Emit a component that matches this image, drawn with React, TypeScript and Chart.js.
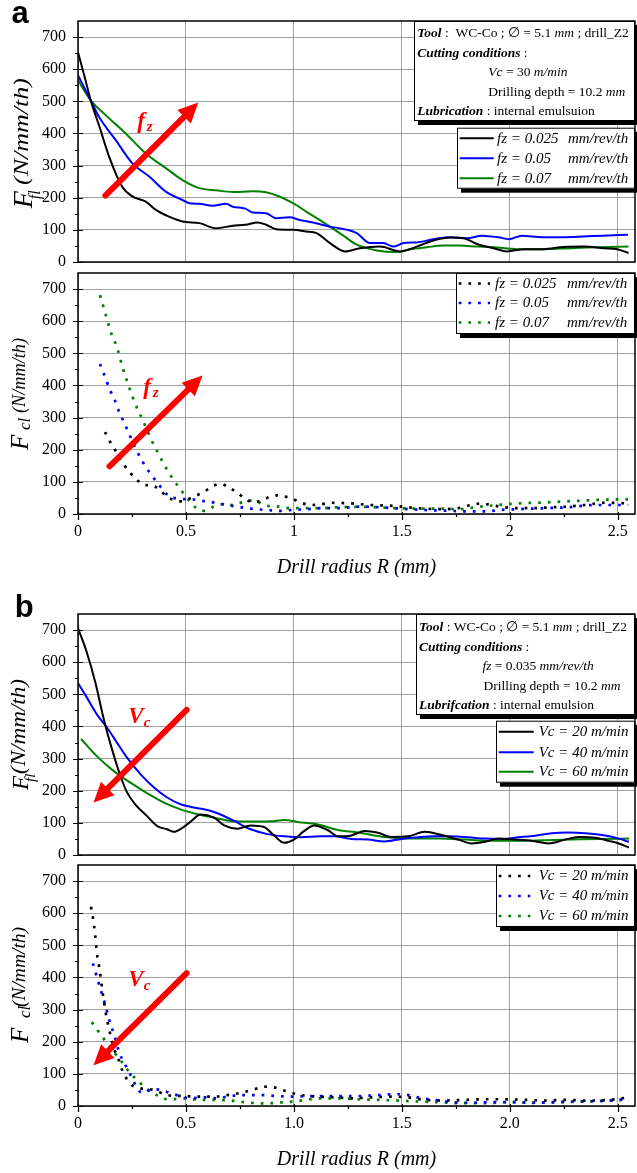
import React, { useEffect, useRef } from 'react';
import { Chart, registerables } from 'chart.js';
Chart.register(...registerables);

const SERIF = '"Liberation Serif", "Times New Roman", Times, serif';
const SANS = '"Liberation Sans", Arial, Helvetica, sans-serif';
const GRID = '#a0a0a0';

// ---------- axes ----------
const X_MAX = 2.58;
const Y_MAX = 750;
const yTickValues = [0, 100, 200, 300, 400, 500, 600, 700];
const yMinorValues = [50, 150, 250, 350, 450, 550, 650];
const xTickValues = [0, 0.5, 1, 1.5, 2, 2.5];
const xMinorValues = [0.25, 0.75, 1.25, 1.75, 2.25];
const xLabelsA = ['0', '0.5', '1', '1.5', '2', '2.5'];
const xLabelsB = ['0', '0.5', '1.0', '1.5', '2.0', '2.5'];
const xTitle = 'Drill radius R (mm)';

// ---------- legends ----------
const legendA = ['fz = 0.025 mm/rev/th', 'fz = 0.05 mm/rev/th', 'fz = 0.07 mm/rev/th'];
const legendB = ['Vc = 20 m/min', 'Vc = 40 m/min', 'Vc = 60 m/min'];
const seriesColors = ['#000000', '#0000ff', '#008000'];

// ---------- panel a, top: F_fl ----------
const aFflR_fz025 = [0, 0.03, 0.059, 0.1, 0.144, 0.204, 0.252, 0.314, 0.361, 0.422, 0.484, 0.562, 0.64, 0.717, 0.775, 0.833, 0.871, 0.918, 0.996, 1.057, 1.105, 1.167, 1.236, 1.306, 1.399, 1.492, 1.569, 1.647, 1.724, 1.786, 1.848, 1.925, 1.987, 2.065, 2.157, 2.25, 2.343, 2.436, 2.498, 2.55];
const aFflF_fz025 = [653, 578, 503, 420, 328, 235, 204, 188, 162, 141, 126, 121, 105, 113, 116, 123, 116, 102, 100, 95, 90, 59, 33, 43, 48, 33, 48, 67, 76, 74, 56, 43, 33, 40, 40, 47, 48, 43, 40, 28];
const aFflR_fz05 = [0, 0.059, 0.097, 0.174, 0.252, 0.33, 0.407, 0.484, 0.516, 0.562, 0.624, 0.686, 0.717, 0.775, 0.809, 0.871, 0.918, 0.98, 1.026, 1.088, 1.167, 1.228, 1.291, 1.352, 1.414, 1.461, 1.508, 1.569, 1.647, 1.724, 1.802, 1.871, 1.948, 1.995, 2.057, 2.15, 2.243, 2.336, 2.429, 2.547];
const aFflF_fz05 = [581, 503, 452, 380, 307, 266, 219, 193, 183, 181, 175, 181, 172, 166, 154, 152, 136, 139, 131, 123, 110, 103, 90, 59, 59, 48, 59, 61, 71, 77, 74, 82, 77, 71, 82, 77, 77, 79, 82, 85];
const aFflR_fz07 = [0, 0.059, 0.128, 0.221, 0.314, 0.407, 0.484, 0.562, 0.64, 0.717, 0.81, 0.871, 0.933, 0.996, 1.057, 1.119, 1.167, 1.229, 1.291, 1.384, 1.477, 1.539, 1.616, 1.693, 1.771, 1.848, 1.925, 2.034, 2.157, 2.281, 2.405, 2.55];
const aFflF_fz07 = [566, 503, 457, 400, 338, 292, 255, 230, 223, 218, 220, 217, 204, 183, 157, 131, 110, 82, 54, 36, 31, 40, 46, 51, 51, 48, 46, 40, 40, 43, 46, 48];

// ---------- panel a, bottom: F_cl ----------
const aFclR_fz025 = [0.125, 0.149, 0.172, 0.214, 0.245, 0.276, 0.307, 0.343, 0.378, 0.412, 0.45, 0.486, 0.52, 0.563, 0.597, 0.628, 0.662, 0.703, 0.737, 0.776, 0.814, 0.86, 0.891, 0.922, 0.961, 1.0, 1.038, 1.085, 1.124, 1.171, 1.264, 1.357, 1.465, 1.573, 1.682, 1.76, 1.82, 1.867, 1.914, 1.975, 2.037, 2.114, 2.192, 2.27, 2.347, 2.44, 2.549];
const aFclF_fz025 = [255, 224, 199, 152, 126, 104, 90, 89, 75, 54, 42, 39, 49, 62, 75, 88, 94, 80, 68, 45, 37, 45, 54, 58, 54, 45, 34, 28, 30, 35, 33, 28, 25, 18, 15, 18, 28, 33, 28, 21, 18, 18, 21, 23, 28, 35, 33];
const aFclR_fz05 = [0.102, 0.118, 0.133, 0.149, 0.169, 0.183, 0.2, 0.219, 0.237, 0.254, 0.275, 0.295, 0.315, 0.341, 0.367, 0.395, 0.426, 0.458, 0.497, 0.528, 0.559, 0.597, 0.644, 0.69, 0.737, 0.783, 0.86, 0.938, 1.0, 1.062, 1.124, 1.204, 1.309, 1.464, 1.588, 1.712, 1.805, 1.883, 1.96, 2.037, 2.16, 2.27, 2.394, 2.549];
const aFclF_fz05 = [467, 439, 412, 384, 357, 330, 304, 276, 249, 223, 193, 168, 145, 121, 97, 75, 52, 49, 46, 46, 42, 39, 34, 28, 23, 18, 13, 10, 13, 15, 18, 18, 23, 18, 13, 10, 8, 8, 13, 15, 18, 21, 28, 28];
const aFclR_fz07 = [0.102, 0.127, 0.151, 0.183, 0.207, 0.234, 0.265, 0.3, 0.319, 0.353, 0.375, 0.396, 0.419, 0.442, 0.469, 0.494, 0.52, 0.548, 0.582, 0.628, 0.667, 0.713, 0.76, 0.814, 0.86, 0.93, 0.984, 1.062, 1.124, 1.2, 1.295, 1.388, 1.481, 1.574, 1.667, 1.76, 1.852, 1.945, 2.038, 2.131, 2.224, 2.317, 2.41, 2.549];
const aFclF_fz07 = [681, 624, 568, 514, 455, 400, 343, 292, 263, 212, 185, 157, 131, 106, 82, 59, 38, 18, 10, 23, 30, 28, 36, 43, 28, 23, 18, 18, 18, 21, 22, 21, 18, 17, 17, 15, 22, 28, 33, 35, 38, 41, 44, 46];

// ---------- panel b, top: F_fl ----------
const bFflR_vc20 = [0, 0.042, 0.081, 0.12, 0.158, 0.197, 0.228, 0.266, 0.32, 0.367, 0.413, 0.444, 0.483, 0.522, 0.568, 0.63, 0.677, 0.739, 0.8, 0.862, 0.908, 0.955, 1.0, 1.048, 1.094, 1.158, 1.204, 1.266, 1.328, 1.39, 1.452, 1.529, 1.607, 1.684, 1.761, 1.823, 1.885, 1.947, 2.025, 2.102, 2.18, 2.257, 2.319, 2.396, 2.458, 2.505, 2.552];
const bFflF_vc20 = [706, 628, 535, 421, 328, 245, 194, 157, 121, 90, 80, 72, 84, 104, 126, 116, 92, 82, 92, 87, 61, 38, 48, 75, 92, 77, 58, 61, 75, 69, 56, 58, 72, 62, 48, 36, 41, 51, 48, 44, 36, 48, 56, 54, 44, 36, 23];
const bFflR_vc40 = [0, 0.042, 0.088, 0.135, 0.181, 0.228, 0.29, 0.352, 0.413, 0.475, 0.537, 0.599, 0.646, 0.723, 0.8, 0.878, 0.955, 1.033, 1.124, 1.188, 1.266, 1.343, 1.42, 1.498, 1.575, 1.653, 1.73, 1.808, 1.885, 1.963, 2.04, 2.117, 2.195, 2.272, 2.35, 2.427, 2.505, 2.552];
const bFflF_vc40 = [535, 489, 437, 396, 349, 302, 251, 210, 179, 158, 148, 140, 130, 106, 80, 65, 58, 55, 58, 58, 50, 48, 42, 50, 55, 58, 58, 55, 51, 50, 55, 60, 68, 70, 68, 62, 51, 41];
const bFflR_vc60 = [0.014, 0.088, 0.166, 0.243, 0.321, 0.398, 0.475, 0.553, 0.63, 0.708, 0.8, 0.893, 0.955, 1.017, 1.111, 1.204, 1.297, 1.42, 1.544, 1.669, 1.792, 1.916, 2.04, 2.164, 2.288, 2.412, 2.552];
const bFflF_vc60 = [361, 307, 261, 225, 192, 163, 142, 127, 116, 106, 104, 105, 109, 103, 95, 78, 70, 56, 51, 51, 48, 44, 44, 46, 48, 50, 51];

// ---------- panel b, bottom: F_cl ----------
const bFclR_vc20 = [0.06, 0.069, 0.079, 0.088, 0.097, 0.106, 0.116, 0.128, 0.142, 0.166, 0.184, 0.204, 0.224, 0.25, 0.289, 0.351, 0.413, 0.49, 0.568, 0.63, 0.692, 0.754, 0.816, 0.862, 0.908, 0.97, 1.033, 1.111, 1.188, 1.266, 1.359, 1.452, 1.529, 1.607, 1.7, 1.792, 1.885, 1.978, 2.071, 2.164, 2.257, 2.35, 2.458, 2.552];
const bFclF_vc20 = [620, 587, 536, 474, 437, 395, 345, 292, 246, 179, 153, 112, 86, 65, 55, 50, 34, 31, 29, 29, 34, 41, 52, 60, 58, 45, 34, 29, 27, 24, 27, 29, 27, 19, 17, 19, 21, 21, 19, 17, 19, 17, 19, 27];
const bFclR_vc40 = [0.069, 0.081, 0.093, 0.106, 0.119, 0.131, 0.142, 0.155, 0.169, 0.192, 0.212, 0.235, 0.254, 0.274, 0.302, 0.343, 0.385, 0.427, 0.474, 0.52, 0.582, 0.643, 0.706, 0.768, 0.845, 0.923, 1.0, 1.078, 1.204, 1.297, 1.39, 1.467, 1.529, 1.591, 1.653, 1.73, 1.823, 1.916, 2.009, 2.102, 2.195, 2.288, 2.396, 2.505, 2.552];
const bFclF_vc40 = [444, 416, 388, 360, 331, 303, 274, 246, 219, 164, 137, 107, 83, 55, 40, 52, 50, 40, 31, 24, 27, 24, 31, 34, 34, 31, 29, 31, 31, 31, 34, 37, 34, 24, 19, 12, 10, 12, 12, 10, 12, 14, 15, 19, 24];
const bFclR_vc60 = [0.064, 0.09, 0.115, 0.142, 0.17, 0.2, 0.23, 0.258, 0.282, 0.309, 0.351, 0.39, 0.436, 0.483, 0.529, 0.583, 0.643, 0.706, 0.784, 0.862, 0.939, 1.0, 1.078, 1.124, 1.204, 1.297, 1.39, 1.483, 1.575, 1.668, 1.761, 1.885, 2.009, 2.133, 2.257, 2.381, 2.474, 2.552];
const bFclF_vc60 = [261, 236, 213, 189, 165, 140, 112, 91, 76, 58, 40, 24, 21, 24, 21, 19, 19, 17, 11, 8, 11, 14, 21, 24, 24, 21, 19, 17, 14, 12, 9, 9, 12, 10, 12, 15, 17, 21];

// ---------- annotation arrows (data coordinates: R, F) ----------
const arrowATopFrom = [0.117, 200];
const arrowATopTo = [0.557, 496];
const arrowATopLabel = [0.274, 417];
const arrowABotFrom = [0.136, 142];
const arrowABotTo = [0.577, 431];
const arrowABotLabel = [0.302, 375];
const arrowBTopFrom = [0.513, 458];
const arrowBTopTo = [0.072, 163];
const arrowBTopLabel = [0.233, 411];
const arrowBBotFrom = [0.513, 420];
const arrowBBotTo = [0.072, 127];
const arrowBBotLabel = [0.233, 375];

// ---------- info boxes ----------
type Seg = [string, string];
const infoA: Seg[][] = [
  [['bi', 'Tool'], ['n', ' :  WC-Co ; \u2205 = 5.1 '], ['i', 'mm'], ['n', ' ; drill_Z2']],
  [['bi', 'Cutting conditions'], ['n', ' :']],
  [['i', 'Vc'], ['n', ' = 30 '], ['i', 'm/min']],
  [['n', 'Drilling depth = 10.2 '], ['i', 'mm']],
  [['bi', 'Lubrication'], ['n', ' : internal emulsuion']],
];
const infoB: Seg[][] = [
  [['bi', 'Tool'], ['n', ' : WC-Co ; \u2205 = 5.1 '], ['i', 'mm'], ['n', ' ; drill_Z2']],
  [['bi', 'Cutting conditions'], ['n', ' :']],
  [['i', 'fz'], ['n', ' = 0.035 '], ['i', 'mm/rev/th']],
  [['n', 'Drilling depth = 10.2 '], ['i', 'mm']],
  [['bi', 'Lubrifcation'], ['n', ' : internal emulsion']],
];

function segFont(st: string, size: number) {
  const it = st.includes('i') ? 'italic ' : '';
  const bd = st.includes('b') ? 'bold ' : '';
  return `${it}${bd}${size}px ${SERIF}`;
}

function drawSegs(ctx: CanvasRenderingContext2D, segs: Seg[], x: number, y: number, size: number) {
  let cx = x;
  for (const [st, t] of segs) {
    ctx.font = segFont(st, size);
    ctx.fillText(t, cx, y);
    cx += ctx.measureText(t).width;
  }
}

function makeDecor(spec: any) {
  return {
    id: 'decor_' + spec.key,
    afterDatasetsDraw(chart: any) {
      const { ctx, chartArea: ca, scales } = chart;
      const xs = scales.x;
      const ys = scales.y;
      ctx.save();
      ctx.strokeStyle = '#000';
      ctx.lineWidth = 1.5;
      ctx.strokeRect(ca.left, ca.top, ca.right - ca.left, ca.bottom - ca.top);
      ctx.lineWidth = 1.2;
      ctx.beginPath();
      for (const v of yTickValues) {
        const py = Math.round(ys.getPixelForValue(v)) + 0.5;
        ctx.moveTo(ca.left - 5, py);
        ctx.lineTo(ca.left + 5, py);
      }
      for (const v of yMinorValues) {
        const py = Math.round(ys.getPixelForValue(v)) + 0.5;
        ctx.moveTo(ca.left - 3, py);
        ctx.lineTo(ca.left, py);
      }
      if (spec.showX) {
        for (const v of xTickValues) {
          const px = Math.round(xs.getPixelForValue(v)) + 0.5;
          ctx.moveTo(px, ca.bottom - 2);
          ctx.lineTo(px, ca.bottom + 6);
        }
        for (const v of xMinorValues) {
          const px = Math.round(xs.getPixelForValue(v)) + 0.5;
          ctx.moveTo(px, ca.bottom);
          ctx.lineTo(px, ca.bottom + 3);
        }
      }
      ctx.stroke();
      ctx.restore();
    },
    afterDraw(chart: any) {
      const { ctx, chartArea: ca, scales } = chart;
      const xs = scales.x;
      const ys = scales.y;

      // y-axis title with subscript
      const t = spec.yTitle;
      ctx.save();
      ctx.fillStyle = '#000';
      ctx.textAlign = 'left';
      ctx.textBaseline = 'alphabetic';
      const cy = (ca.top + ca.bottom) / 2;
      ctx.translate(0, cy);
      ctx.rotate(-Math.PI / 2);
      const u0 = t.u0;
      ctx.font = `italic ${t.fSize}px ${SERIF}`;
      ctx.fillText('F', u0, t.fBase);
      ctx.font = `italic ${t.subSize}px ${SERIF}`;
      ctx.fillText(t.sub, u0 + t.subU, t.subBase);
      ctx.font = `italic ${t.restSize}px ${SERIF}`;
      const wr = ctx.measureText(t.rest).width;
      ctx.translate(u0 + t.restU, t.restBase);
      ctx.scale(t.restLen / wr, 1);
      ctx.fillText(t.rest, 0, 0);
      ctx.restore();

      // info box
      if (spec.info) {
        const I = spec.info;
        const bx = ca.right - I.w;
        const by = ca.top + I.dy;
        ctx.save();
        ctx.fillStyle = '#000';
        ctx.fillRect(bx + 4, by + 4, I.w, I.h);
        ctx.fillStyle = '#fff';
        ctx.fillRect(bx, by, I.w, I.h);
        ctx.strokeStyle = '#000';
        ctx.lineWidth = 1;
        ctx.strokeRect(bx + 0.5, by + 0.5, I.w - 1, I.h - 1);
        ctx.fillStyle = '#000';
        ctx.textBaseline = 'alphabetic';
        ctx.textAlign = 'left';
        I.lines.forEach((segs: Seg[], i: number) => {
          drawSegs(ctx, segs, bx + I.indent[i], by + I.base[i], I.size);
        });
        ctx.restore();
      }

      // legend box
      const L = spec.legend;
      {
        const bx = ca.right - L.w;
        const by = ca.top + L.dy;
        ctx.save();
        ctx.fillStyle = '#000';
        ctx.fillRect(bx + 4, by + 4, L.w, L.h);
        ctx.fillStyle = '#fff';
        ctx.fillRect(bx, by, L.w, L.h);
        ctx.strokeStyle = '#000';
        ctx.lineWidth = 1;
        ctx.strokeRect(bx + 0.5, by + 0.5, L.w - 1, L.h - 1);
        chart.data.datasets.forEach((ds: any, i: number) => {
          const ry = by + L.rows[i];
          ctx.strokeStyle = ds.borderColor;
          ctx.lineWidth = ds.borderWidth;
          ctx.setLineDash(ds.borderDash || []);
          ctx.beginPath();
          ctx.moveTo(bx + L.s0, ry);
          ctx.lineTo(bx + L.s1, ry);
          ctx.stroke();
          ctx.setLineDash([]);
          ctx.fillStyle = '#000';
          ctx.font = `italic 15px ${SERIF}`;
          ctx.textBaseline = 'middle';
          ctx.textAlign = 'left';
          const label: string = ds.label;
          if (L.unitX) {
            const k = label.lastIndexOf(' ');
            ctx.fillText(label.slice(0, k), bx + L.textX, ry + 0.5);
            ctx.fillText(label.slice(k + 1), bx + L.unitX, ry + 0.5);
          } else {
            ctx.fillText(label, bx + L.textX, ry + 0.5);
          }
        });
        ctx.restore();
      }

      // red arrow + label
      const A = spec.arrow;
      {
        const x0 = xs.getPixelForValue(A.from[0]);
        const y0 = ys.getPixelForValue(A.from[1]);
        const x1 = xs.getPixelForValue(A.to[0]);
        const y1 = ys.getPixelForValue(A.to[1]);
        const ang = Math.atan2(y1 - y0, x1 - x0);
        const head = 20;
        const hw = 9.5;
        const c = Math.cos(ang);
        const s = Math.sin(ang);
        const bx = x1 - head * c;
        const by = y1 - head * s;
        ctx.save();
        ctx.strokeStyle = '#ff0000';
        ctx.fillStyle = '#ff0000';
        ctx.lineWidth = 6;
        ctx.lineCap = 'round';
        ctx.beginPath();
        ctx.moveTo(x0 + 3 * c, y0 + 3 * s);
        ctx.lineTo(bx + 2 * c, by + 2 * s);
        ctx.stroke();
        ctx.beginPath();
        ctx.moveTo(x1, y1);
        ctx.lineTo(bx - hw * s, by + hw * c);
        ctx.lineTo(bx + hw * s, by - hw * c);
        ctx.closePath();
        ctx.fill();
        const lx = xs.getPixelForValue(A.label[0]);
        const ly = ys.getPixelForValue(A.label[1]);
        ctx.textBaseline = 'alphabetic';
        ctx.textAlign = 'left';
        ctx.font = `italic bold ${A.mainSize}px ${SERIF}`;
        ctx.fillText(A.main, lx, ly);
        const w = ctx.measureText(A.main).width;
        ctx.font = `italic bold ${A.subSize}px ${SERIF}`;
        ctx.fillText(A.sub, lx + w + A.subDx, ly + A.subDy);
        ctx.restore();
      }

      // panel letter
      if (spec.letter) {
        ctx.save();
        ctx.fillStyle = '#000';
        ctx.font = `bold 31px ${SANS}`;
        ctx.textBaseline = 'alphabetic';
        ctx.textAlign = 'left';
        ctx.fillText(spec.letter.text, spec.letter.x, spec.letter.y);
        ctx.restore();
      }
    },
  };
}

function buildConfig(spec: any): any {
  return {
    type: 'line',
    data: {
      datasets: spec.series.map((s: any, i: number) => ({
        label: spec.labels[i],
        data: s.r.map((r: number, k: number) => ({ x: r, y: s.f[k] })),
        borderColor: seriesColors[i],
        backgroundColor: seriesColors[i],
        borderWidth: spec.dotted ? 2.7 : 2,
        borderDash: spec.dotted ? [2.7, 7] : [],
        borderCapStyle: 'butt',
        pointRadius: 0,
        cubicInterpolationMode: 'monotone',
        fill: false,
      })),
    },
    options: {
      animation: false,
      responsive: true,
      maintainAspectRatio: false,
      events: [],
      layout: { padding: { left: 0, right: 2, top: spec.padTop, bottom: 0 } },
      plugins: { legend: { display: false }, tooltip: { enabled: false }, title: { display: false } },
      scales: {
        x: {
          type: 'linear',
          min: 0,
          max: X_MAX,
          afterBuildTicks: (sc: any) => {
            sc.ticks = xTickValues.map((v) => ({ value: v }));
          },
          afterFit: (sc: any) => {
            sc.height = spec.xAxisH;
            sc.paddingLeft = 0;
            sc.paddingRight = 0;
            sc.paddingTop = 0;
            sc.paddingBottom = 0;
          },
          grid: { color: GRID, lineWidth: 1, drawTicks: false },
          border: { display: false },
          ticks: {
            display: spec.showX,
            padding: 8,
            maxRotation: 0,
            autoSkip: false,
            color: '#000',
            font: { family: SERIF, size: 16 },
            callback: (_v: any, i: number) => spec.xLabels[i],
          },
          title: {
            display: spec.showX,
            text: xTitle,
            color: '#000',
            font: { family: SERIF, size: 20, style: 'italic' },
            padding: { top: 0, bottom: spec.titlePadBottom || 0 },
          },
        },
        y: {
          type: 'linear',
          min: 0,
          max: Y_MAX,
          afterBuildTicks: (sc: any) => {
            sc.ticks = yTickValues.map((v) => ({ value: v }));
          },
          afterFit: (sc: any) => {
            sc.width = 78;
            sc.paddingLeft = 0;
            sc.paddingRight = 0;
            sc.paddingTop = 0;
            sc.paddingBottom = 0;
          },
          grid: { color: GRID, lineWidth: 1, drawTicks: false },
          border: { display: false },
          ticks: {
            padding: 12,
            color: '#000',
            font: { family: SERIF, size: 16 },
          },
        },
      },
    },
    plugins: [makeDecor(spec)],
  };
}

const panelSpecs: any[] = [
  {
    key: 'aTop', top: 0, height: 270, padTop: 21, xAxisH: 8, showX: false, dotted: false,
    labels: legendA, xLabels: xLabelsA,
    series: [
      { r: aFflR_fz025, f: aFflF_fz025 },
      { r: aFflR_fz05, f: aFflF_fz05 },
      { r: aFflR_fz07, f: aFflF_fz07 },
    ],
    yTitle: { u0: -66.8, fSize: 28, fBase: 31.7, sub: 'fl', subSize: 16, subU: 9, subBase: 39.5, rest: '(N/mm/th)', restSize: 21, restU: 23.3, restLen: 107, restBase: 27.8 },
    info: { w: 221, h: 100, dy: 0, size: 13.5, lines: infoA, indent: [3.3, 3.3, 74.3, 74.3, 3.3], base: [16, 36, 55.3, 75, 94.3] },
    legend: { w: 178, h: 61, dy: 106.7, rows: [10.5, 30.5, 50.5], s0: 2.7, s1: 36.7, textX: 40, unitX: 111 },
    arrow: { from: arrowATopFrom, to: arrowATopTo, label: arrowATopLabel, main: 'f', sub: 'z', mainSize: 23, subSize: 15, subDx: 2, subDy: 3 },
    letter: { text: 'a', x: 11.5, y: 23.3 },
  },
  {
    key: 'aBot', top: 270, height: 315, padTop: 3, xAxisH: 71, showX: true, dotted: true, titlePadBottom: 5,
    labels: legendA, xLabels: xLabelsA,
    series: [
      { r: aFclR_fz025, f: aFclF_fz025 },
      { r: aFclR_fz05, f: aFclF_fz05 },
      { r: aFclR_fz07, f: aFclF_fz07 },
    ],
    yTitle: { u0: -56.5, fSize: 25, fBase: 28.3, sub: 'cl', subSize: 17, subU: 20, subBase: 30, rest: '(N/mm/th)', restSize: 18, restU: 37, restLen: 75, restBase: 25.2 },
    legend: { w: 179, h: 61, dy: 0, rows: [10.5, 30, 49.5], s0: 2.7, s1: 34, textX: 39, unitX: 111 },
    arrow: { from: arrowABotFrom, to: arrowABotTo, label: arrowABotLabel, main: 'f', sub: 'z', mainSize: 23, subSize: 15, subDx: 2, subDy: 3 },
  },
  {
    key: 'bTop', top: 585, height: 278, padTop: 29, xAxisH: 8, showX: false, dotted: false,
    labels: legendB, xLabels: xLabelsB,
    series: [
      { r: bFflR_vc20, f: bFflF_vc20 },
      { r: bFflR_vc40, f: bFflF_vc40 },
      { r: bFflR_vc60, f: bFflF_vc60 },
    ],
    yTitle: { u0: -55.5, fSize: 23, fBase: 28.3, sub: 'fl', subSize: 15, subU: 8, subBase: 34.5, rest: '(N/mm/th)', restSize: 21, restU: 16, restLen: 95, restBase: 24.5 },
    info: { w: 219, h: 101, dy: 0, size: 13.5, lines: infoB, indent: [3, 3, 66.4, 67.4, 3], base: [17.4, 37, 56.4, 76.4, 95.4] },
    legend: { w: 139, h: 62, dy: 106.7, rows: [11, 31.5, 51], s0: 2.7, s1: 37.7, textX: 42.7 },
    arrow: { from: arrowBTopFrom, to: arrowBTopTo, label: arrowBTopLabel, main: 'V', sub: 'c', mainSize: 23, subSize: 15, subDx: 0, subDy: 4 },
    letter: { text: 'b', x: 14.7, y: 31.7 },
  },
  {
    key: 'bBot', top: 863, height: 310, padTop: 2, xAxisH: 67, showX: true, dotted: true, titlePadBottom: 1,
    labels: legendB, xLabels: xLabelsB,
    series: [
      { r: bFclR_vc20, f: bFclF_vc20 },
      { r: bFclR_vc40, f: bFclF_vc40 },
      { r: bFclR_vc60, f: bFclF_vc60 },
    ],
    yTitle: { u0: -57.5, fSize: 25, fBase: 28.3, sub: 'cl', subSize: 17, subU: 25, subBase: 30, rest: '(N/mm/th)', restSize: 19, restU: 36, restLen: 80, restBase: 25 },
    legend: { w: 139, h: 62, dy: 0, rows: [11, 31, 51], s0: 2.7, s1: 34.3, textX: 42.7 },
    arrow: { from: arrowBBotFrom, to: arrowBBotTo, label: arrowBBotLabel, main: 'V', sub: 'c', mainSize: 23, subSize: 15, subDx: 0, subDy: 4 },
  },
];

function Panel({ spec }: { spec: any }) {
  const ref = useRef<HTMLCanvasElement>(null);
  useEffect(() => {
    const chart = new Chart(ref.current as HTMLCanvasElement, buildConfig(spec));
    return () => chart.destroy();
  }, [spec]);
  return (
    <div style={{ position: 'absolute', left: 0, top: spec.top, width: 637, height: spec.height }}>
      <canvas ref={ref} />
    </div>
  );
}

export default function App() {
  return (
    <div style={{ position: 'absolute', left: 0, top: 0, width: 637, height: 1173, overflow: 'hidden', background: '#fff' }}>
      {panelSpecs.map((s) => (
        <Panel key={s.key} spec={s} />
      ))}
    </div>
  );
}
